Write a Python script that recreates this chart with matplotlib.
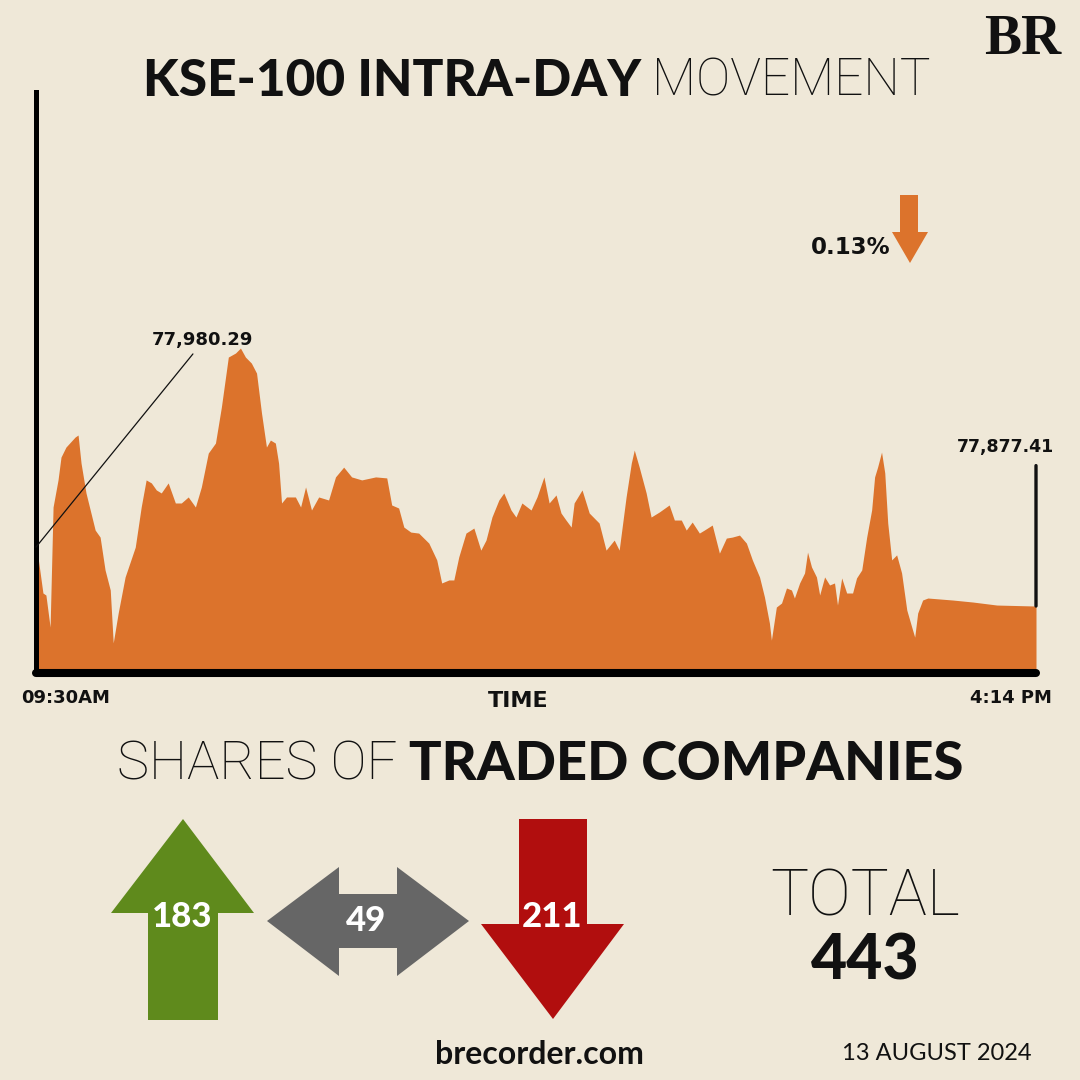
import matplotlib
matplotlib.use('Agg')
import matplotlib.pyplot as plt
from matplotlib.patches import Polygon

# intraday KSE-100 readings (minutes after 09:30, index points)
minutes = [0, 0.8, 2.8, 4.0, 5.7, 6.9, 8.9, 10.1, 12.1, 15.8, 17.0, 18.2, 20.2, 23.9,
           25.9, 27.9, 30.0, 31.2, 33.2, 36.0, 40.1, 42.5, 44.5, 46.6, 48.6, 50.6,
           53.4, 56.3, 58.7, 61.5, 64.4, 66.8, 69.6, 72.5, 74.9, 77.7, 80.6, 82.6,
           84.6, 87.0, 89.1, 91.1, 93.1, 94.7, 96.7, 98.0, 99.2, 101.2, 104.8, 106.9,
           108.9, 111.3, 114.2, 118.2, 121.0, 124.3, 127.5, 131.6, 137.2, 141.7,
           143.7, 146.5, 148.6, 151.4, 154.6, 158.7, 161.9, 163.9, 166.8, 168.8,
           170.8, 173.7, 176.9, 179.7, 181.8, 184.2, 187.0, 189.0, 191.9, 193.9,
           196.3, 200.0, 202.4, 205.2, 207.3, 210.1, 212.1, 214.1, 216.2, 217.4,
           220.6, 223.5, 227.5, 230.3, 233.6, 235.6, 238.4, 240.5, 241.7, 243.7,
           246.5, 248.5, 251.8, 255.8, 257.9, 260.7, 262.7, 265.1, 268.0, 270.0,
           273.2, 276.1, 278.9, 281.3, 284.2, 287.0, 289.4, 292.3, 294.3, 296.3,
           297.1, 299.1, 301.2, 303.2, 305.2, 306.4, 308.5, 310.5, 311.7, 313.3,
           315.3, 316.6, 318.6, 320.6, 322.6, 323.8, 325.5, 327.5, 329.9, 331.5,
           333.6, 335.6, 337.6, 338.8, 340.0, 341.6, 342.9, 344.1, 345.7, 347.7,
           349.7, 351.8, 353.8, 355.0, 356.2, 358.2, 360.3, 370.4, 378.5, 388.2, 404.0]
values = [77900.9, 77897.0, 77882.6, 77881.8, 77869.0, 77916.9, 77927.7, 77936.8,
          77940.8, 77944.8, 77945.6, 77934.4, 77922.5, 77907.7, 77904.9, 77891.8,
          77883.8, 77862.7, 77874.6, 77889.0, 77900.9, 77916.9, 77927.7, 77926.5,
          77923.7, 77922.5, 77926.5, 77918.5, 77918.5, 77920.9, 77916.9, 77924.9,
          77938.4, 77942.4, 77956.8, 77976.7, 77978.3, 77980.29, 77976.7, 77974.3,
          77970.3, 77954.4, 77940.8, 77943.6, 77942.4, 77934.4, 77918.5, 77920.9,
          77920.9, 77916.9, 77924.9, 77915.7, 77920.9, 77919.7, 77928.9, 77932.8,
          77928.9, 77927.7, 77928.9, 77928.5, 77917.7, 77916.5, 77908.9, 77906.9,
          77906.5, 77902.5, 77895.8, 77886.6, 77887.8, 77887.8, 77897.0, 77906.5,
          77908.5, 77899.7, 77903.7, 77912.9, 77919.7, 77922.5, 77915.7, 77912.9,
          77918.5, 77915.7, 77920.9, 77928.9, 77918.5, 77921.7, 77914.5, 77911.7,
          77908.9, 77918.5, 77923.7, 77914.5, 77910.5, 77899.7, 77903.7, 77899.7,
          77920.9, 77934.4, 77939.6, 77932.8, 77922.5, 77912.9, 77914.9, 77917.7,
          77911.7, 77911.7, 77907.7, 77910.9, 77906.5, 77907.7, 77909.7, 77898.5,
          77904.5, 77904.9, 77905.7, 77902.5, 77895.8, 77889.0, 77881.0, 77870.6,
          77863.8, 77877.0, 77878.6, 77884.6, 77883.8, 77880.6, 77886.6, 77890.6,
          77898.9, 77893.0, 77889.0, 77881.8, 77889.0, 77885.8, 77886.6, 77877.8,
          77888.6, 77882.6, 77882.6, 77888.6, 77891.8, 77904.9, 77915.7, 77928.9,
          77932.8, 77938.8, 77930.5, 77910.5, 77895.8, 77897.8, 77890.6, 77875.8,
          77869.0, 77865.0, 77874.6, 77879.8, 77880.6, 77879.8, 77879.0, 77877.8,
          77877.41]

time_labels = ['09:30AM', '4:14 PM']
change_pct = 0.13
counts = [183, 49, 211]
total = 443
date_text = '13 AUGUST 2024'

BG = '#efe8d8'
ORANGE = '#dc732c'
FONT = 'Lato'
THIN = 'Roboto'

fig = plt.figure(figsize=(10.8, 10.8), dpi=100, facecolor=BG)


def fr(x0, y0, x1, y1):
    # pixel box -> figure fraction rect
    return [x0 / 1080, 1 - y1 / 1080, (x1 - x0) / 1080, (y1 - y0) / 1080]


# main area chart
ax = fig.add_axes(fr(36, 92, 1036, 673))
ax.set_facecolor('none')
ylo = 77850.7
ax.fill_between(minutes, values, ylo, color=ORANGE, lw=0)
ax.set_xlim(0, 404)
ax.set_ylim(ylo, 78082.4)
ax.set_xticks([])
ax.set_yticks([])
for s in ['top', 'right']:
    ax.spines[s].set_visible(False)
ax.spines['left'].set_linewidth(3.6)
ax.spines['bottom'].set_linewidth(5.8)
ax.spines['bottom'].set_capstyle('round')

# overlay in pixel coordinates
ov = fig.add_axes([0, 0, 1, 1])
ov.set_xlim(0, 1080)
ov.set_ylim(1080, 0)
ov.axis('off')
ov.patch.set_alpha(0)

lbl = dict(family='DejaVu Sans', weight='bold', color='#111111')

ipeak = values.index(max(values))
ov.annotate(f'{values[ipeak]:,.2f}', xy=(minutes[0], values[0]), xycoords=ax.transData,
            xytext=(202, 340), textcoords='data', ha='center', va='center',
            fontsize=13, arrowprops=dict(arrowstyle='-', lw=0.9, color='#111111',
                                         shrinkA=2, shrinkB=0, relpos=(0.45, 0)), **lbl)

# closing value marker
ax.annotate('', xy=(minutes[-1], values[-1]), xytext=(minutes[-1], values[-1] + 56),
            arrowprops=dict(arrowstyle='-', lw=2.4, color='#111111', shrinkA=0, shrinkB=0),
            annotation_clip=False)
ov.text(1005, 447, f'{values[-1]:,.2f}', ha='center', va='center', fontsize=12.5, **lbl)

# change indicator
ov.text(851, 247, f'{change_pct:.2f}%', ha='center', va='center', fontsize=16.5, **lbl)
ov.add_patch(Polygon([(900, 195), (918, 195), (918, 232), (928, 232), (910, 263),
                      (892, 232), (900, 232)], closed=True, color=ORANGE, lw=0))

# x labels
ov.text(66, 698, time_labels[0], ha='center', va='center', fontsize=13, **lbl)
ov.text(1011, 698, time_labels[1], ha='center', va='center', fontsize=13, **lbl)
ov.text(518, 701, 'TIME', ha='center', va='center', fontsize=16, **lbl)

renderer = fig.canvas.get_renderer()


def two_part(xc, y, parts, size):
    # draw adjacent text runs with different fonts, centred on xc
    texts = []
    for s, fam, w in parts:
        t = ov.text(0, y, s, ha='left', va='center', fontsize=size, family=fam,
                    weight=w, color='#111111')
        texts.append(t)
    widths = []
    for t in texts:
        bb = t.get_window_extent(renderer)
        widths.append(bb.width)
    gap = size * 0.3
    tot = sum(widths) + gap * (len(texts) - 1)
    x = xc - tot / 2
    for t, w in zip(texts, widths):
        t.set_x(x)
        x += w + gap


two_part(537, 82, [('KSE-100 INTRA-DAY', FONT, 'black'), ('MOVEMENT', THIN, 'light')], 37)
two_part(540, 765, [('SHARES OF', THIN, 'light'), ('TRADED COMPANIES', FONT, 'black')], 39)

# BR logo
ov.text(1023, 40, 'BR', ha='center', va='center', fontsize=40, family='Liberation Serif',
        weight='bold', color='#111111')

# advancers / unchanged / decliners arrows
ov.add_patch(Polygon([(183, 819), (254, 913), (218, 913), (218, 1020), (148, 1020),
                      (148, 913), (111, 913)], closed=True, color='#5f8a1c', lw=0))
ov.add_patch(Polygon([(267, 921), (339, 867), (339, 894), (397, 894), (397, 867),
                      (469, 921), (397, 976), (397, 948), (339, 948), (339, 976)],
                     closed=True, color='#666666', lw=0))
ov.add_patch(Polygon([(519, 819), (587, 819), (587, 924), (624, 924), (553, 1019),
                      (481, 924), (519, 924)], closed=True, color='#b10e0e', lw=0))
for xc, yc, n in zip([182, 366, 552], [917, 921, 917], counts):
    ov.text(xc, yc, str(n), ha='center', va='center', fontsize=25, family=FONT,
            weight='black', color='white')

ov.text(865, 897, 'TOTAL', ha='center', va='center', fontsize=46, family=THIN,
        weight='light', color='#111111')
ov.text(865, 962, str(total), ha='center', va='center', fontsize=45, family=FONT,
        weight='black', color='#111111')

ov.text(539, 1055, 'brecorder.com', ha='center', va='center', fontsize=23, family=FONT,
        weight='bold', color='#111111')
ov.text(937, 1053, date_text, ha='center', va='center', fontsize=17, family=FONT,
        color='#111111')

fig.savefig('out.png', dpi=100, facecolor=BG)
